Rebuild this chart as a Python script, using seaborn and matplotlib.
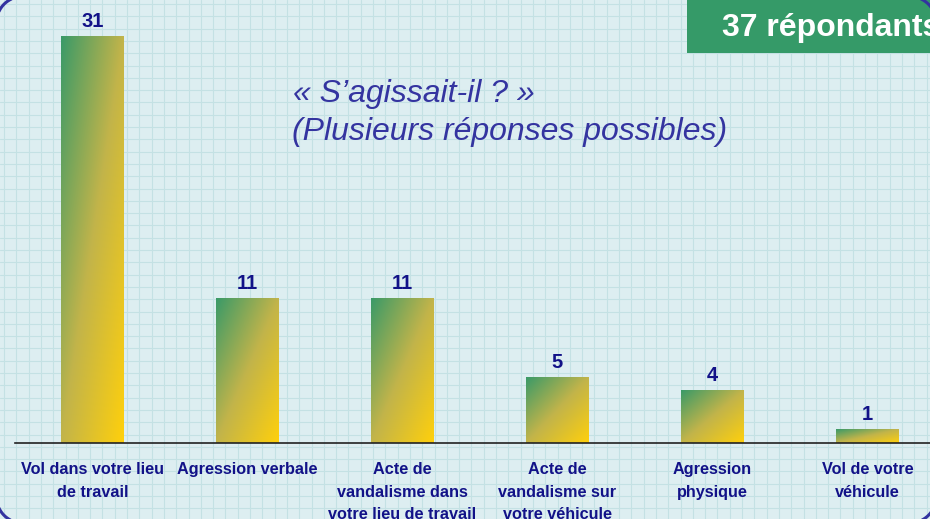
import numpy as np
import pandas as pd
import matplotlib
matplotlib.use("Agg")
import matplotlib.pyplot as plt
import seaborn as sns
from matplotlib.colors import LinearSegmentedColormap
from matplotlib.patches import Rectangle

categories = [
    "Vol dans votre lieu\nde travail",
    "Agression verbale",
    "Acte de\nvandalisme dans\nvotre lieu de travail",
    "Acte de\nvandalisme sur\nvotre véhicule",
    "Agression\nphysique",
    "Vol de votre\nvéhicule",
]
values = [31, 11, 11, 5, 4, 1]
title_line1 = "« S’agissait-il ? »"
title_line2 = "(Plusieurs réponses possibles)"
badge_text = "37 répondants"

sns.set_style("white")
plt.rcParams["font.family"] = ["Liberation Sans", "DejaVu Sans"]

W, H = 930, 519
NAVY = "#121288"
fig = plt.figure(figsize=(9.3, 5.19), dpi=100)

# background with grid paper
bg = fig.add_axes([0, 0, 1, 1], zorder=0)
bg.set_xlim(0, W)
bg.set_ylim(H, 0)
bg.axis("off")
bg.add_patch(Rectangle((0, 0), W, H, facecolor="#ddeef1", edgecolor="none"))
step = 12.3
for x in np.arange(4, W, step):
    bg.axvline(x, color="#c4e1e4", lw=0.8)
for y in np.arange(4, H, step):
    bg.axhline(y, color="#c4e1e4", lw=0.8)

# main axes
ax = fig.add_axes([15 / W, (H - 443) / H, 1.0, 443 / H], zorder=2)
ax.patch.set_alpha(0)
df = pd.DataFrame({"cat": categories, "val": values})
sns.barplot(data=df, x="cat", y="val", ax=ax, width=0.406, color="#3a9a68",
            saturation=1, errorbar=None)
XL, YL = (-0.5, 5.5), (0, 33.8)

cmap = LinearSegmentedColormap.from_list("g", ["#3a9a68", "#c2b44a", "#ffd00c"])
n = 200
U, V = np.meshgrid(np.linspace(0, 1, n), np.linspace(0, 1, n))
grad = (U + V) / 2
for p in ax.patches:
    x0, y0 = p.get_x(), p.get_y()
    w, h = p.get_width(), p.get_height()
    ax.imshow(grad, cmap=cmap, extent=[x0, x0 + w, y0, y0 + h], origin="upper",
              aspect="auto", zorder=2, interpolation="bilinear")
    p.set_facecolor("none")
    p.set_edgecolor("none")
ax.set_xlim(*XL)
ax.set_ylim(*YL)

ax.bar_label(ax.containers[0], labels=[str(v) for v in values], padding=4,
             fontsize=14.5, fontweight="bold", color=NAVY)

for s in ["left", "top", "right"]:
    ax.spines[s].set_visible(False)
ax.spines["bottom"].set_color("#222222")
ax.spines["bottom"].set_linewidth(1.2)
ax.set_yticks([])
ax.set_xlabel("")
ax.set_ylabel("")
ax.set_xticks(range(len(categories)))
ax.set_xticklabels(categories, fontsize=11.7, fontweight="bold", color=NAVY,
                   linespacing=1.62)
ax.tick_params(axis="x", which="major", length=0, pad=14)
ax.set_xticks(np.arange(-0.5, len(categories), 1), minor=True)
ax.tick_params(axis="x", which="minor", length=4, color="#777777", width=1.2,
               direction="out")

# overlay: title, badge, border
ov = fig.add_axes([0, 0, 1, 1], zorder=5)
ov.set_xlim(0, W)
ov.set_ylim(H, 0)
ov.axis("off")
ov.patch.set_alpha(0)
ov.add_patch(Rectangle((687, -5), 260, 58, facecolor="#359a68", edgecolor="none"))
ov.text(722, 36, badge_text, color="white", fontsize=23, fontweight="bold",
        va="baseline", ha="left")
ov.text(293, 102, title_line1, fontsize=23, style="italic", color="#3434a0",
        va="baseline", ha="left")
ov.text(292, 140, title_line2, fontsize=23, style="italic", color="#3434a0",
        va="baseline", ha="left")


def rounded_outline(x0, y0, x1, y1, r, k=40):
    pts = []
    corners = [(x1 - r, y0 + r, -90, 0), (x1 - r, y1 - r, 0, 90),
               (x0 + r, y1 - r, 90, 180), (x0 + r, y0 + r, 180, 270)]
    for cx, cy, a0, a1 in corners:
        t = np.radians(np.linspace(a0, a1, k))
        pts.extend(zip(cx + r * np.cos(t), cy + r * np.sin(t)))
    pts.append(pts[0])
    return np.array(pts)


outline = rounded_outline(-3.5, -3.5, 936, 523, 26)
ov.plot(outline[:, 0], outline[:, 1], color="#3333a0", lw=2.2,
        solid_capstyle="round")

fig.savefig("out.png", dpi=100)
